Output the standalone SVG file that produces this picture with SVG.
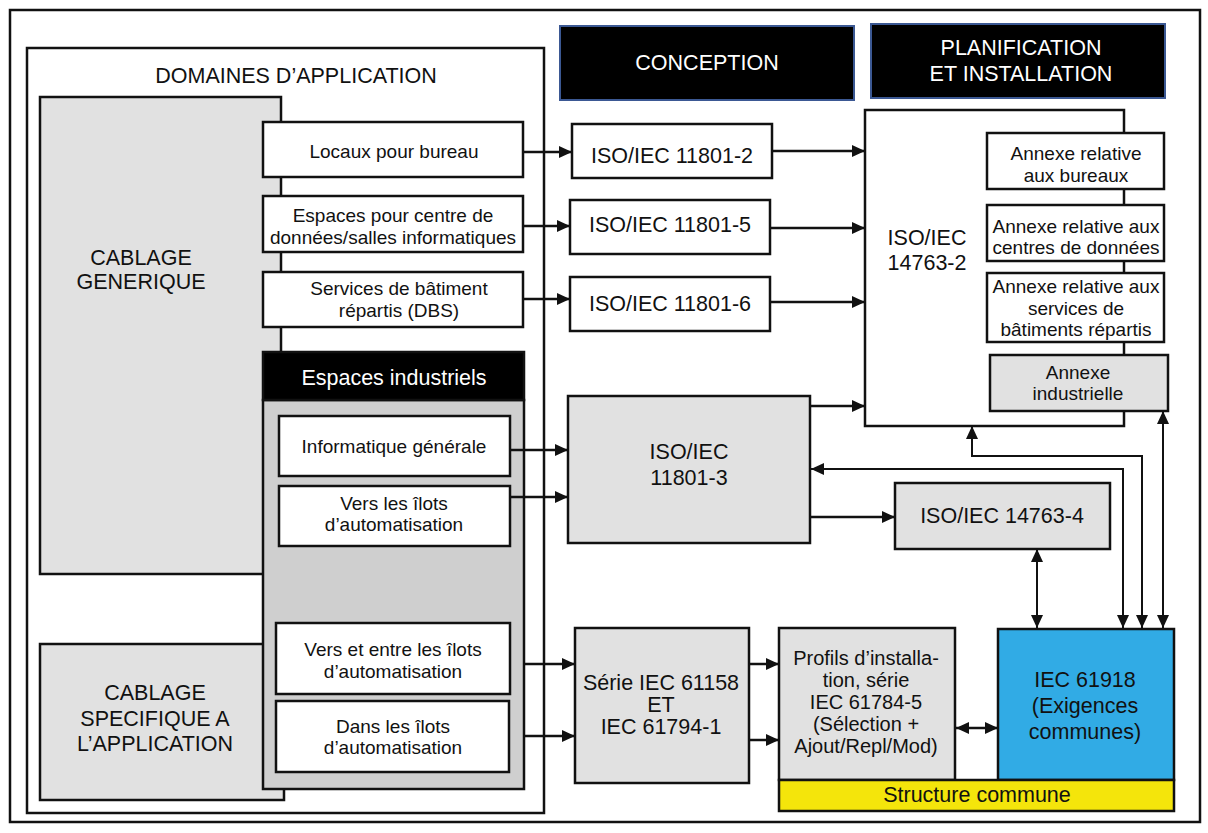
<svg xmlns="http://www.w3.org/2000/svg" width="1208" height="833" viewBox="0 0 1208 833">
<defs>
<style>
.b{stroke:#111;stroke-width:2.5}
.w{fill:#fff}
.g{fill:#e1e1e1}
.k{fill:#000;stroke:#3b5893;stroke-width:2}
.t{font-family:"Liberation Sans",Arial,sans-serif;fill:#111;text-anchor:middle;dominant-baseline:central}
.s{font-size:19px}
.l{font-size:21.5px}
.m{font-size:20px}
.wt{fill:#fff}
.c{fill:none;stroke:#111;stroke-width:2.5}
.c2{fill:none;stroke:#111;stroke-width:2}
</style>
<marker id="ah" viewBox="0 0 13 12" refX="13" refY="6" markerWidth="13" markerHeight="12" markerUnits="userSpaceOnUse" orient="auto-start-reverse"><path d="M0,0L13,6L0,12z" fill="#111"/></marker>
</defs>
<rect x="0" y="0" width="1208" height="833" fill="#fff"/>
<rect id="frame" x="10" y="10" width="1190" height="812" fill="none" class="b"/>

<g id="domaines">
<rect x="27" y="48" width="517" height="765" class="b w"/>
<text class="t l" x="296" y="76">DOMAINES D’APPLICATION</text>
</g>
<g id="cablage-generique">
<rect x="40" y="97" width="241" height="477" class="b g"/>
<text class="t l" x="141" y="258">CABLAGE</text>
<text class="t l" x="141" y="282">GENERIQUE</text>
</g>
<g id="cablage-specifique">
<rect x="40" y="644" width="244" height="156" class="b g"/>
<text class="t l" x="155" y="693">CABLAGE</text>
<text class="t l" x="155" y="719">SPECIFIQUE A</text>
<text class="t l" x="155" y="744">L’APPLICATION</text>
</g>
<g id="locaux">
<rect x="263" y="122" width="260" height="55" class="b w"/>
<text class="t s" x="394" y="151">Locaux pour bureau</text>
</g>
<g id="espaces-centre">
<rect x="263" y="196" width="260" height="56" class="b w"/>
<text class="t s" x="393" y="215">Espaces pour centre de</text>
<text class="t s" x="393" y="237">données/salles informatiques</text>
</g>
<g id="services-batiment">
<rect x="263" y="272" width="260" height="55" class="b w"/>
<text class="t s" x="399" y="288">Services de bâtiment</text>
<text class="t s" x="399" y="310">répartis (DBS)</text>
</g>
<g id="espaces-industriels">
<rect x="263" y="400" width="261" height="389" class="b" fill="#cfcfcf"/>
<rect x="263" y="352" width="261" height="48" class="b" fill="#000"/>
<text class="t l wt" x="394" y="378">Espaces industriels</text>
</g>
<g id="informatique-generale">
<rect x="279" y="416" width="231" height="60" class="b w"/>
<text class="t s" x="394" y="446">Informatique générale</text>
</g>
<g id="vers-ilots">
<rect x="279" y="486" width="231" height="60" class="b w"/>
<text class="t s" x="394" y="503">Vers les îlots</text>
<text class="t s" x="394" y="524">d’automatisation</text>
</g>
<g id="vers-entre-ilots">
<rect x="276" y="623" width="234" height="71" class="b w"/>
<text class="t s" x="393" y="649">Vers et entre les îlots</text>
<text class="t s" x="393" y="671">d’automatisation</text>
</g>
<g id="dans-ilots">
<rect x="276" y="701" width="233" height="71" class="b w"/>
<text class="t s" x="393" y="726">Dans les îlots</text>
<text class="t s" x="393" y="747">d’automatisation</text>
</g>

<g id="conception">
<rect x="560" y="26" width="294" height="74" class="k"/>
<text class="t l wt" x="707" y="63">CONCEPTION</text>
</g>
<g id="planification">
<rect x="871" y="24" width="294" height="74" class="k"/>
<text class="t l wt" x="1021" y="48">PLANIFICATION</text>
<text class="t l wt" x="1021" y="74">ET INSTALLATION</text>
</g>

<g id="iso-11801-2">
<rect x="572" y="124" width="200" height="54" class="b w"/>
<text class="t l" x="672" y="156">ISO/IEC 11801-2</text>
</g>
<g id="iso-11801-5">
<rect x="570" y="200" width="200" height="54" class="b w"/>
<text class="t l" x="670" y="225">ISO/IEC 11801-5</text>
</g>
<g id="iso-11801-6">
<rect x="570" y="277" width="200" height="54" class="b w"/>
<text class="t l" x="670" y="304">ISO/IEC 11801-6</text>
</g>
<g id="iso-11801-3">
<rect x="568" y="396" width="242" height="147" class="b g"/>
<text class="t l" x="689" y="452">ISO/IEC</text>
<text class="t l" x="689" y="478">11801-3</text>
</g>
<g id="iso-14763-4">
<rect x="895" y="483" width="215" height="66" class="b g"/>
<text class="t l" x="1002" y="516">ISO/IEC 14763-4</text>
</g>
<g id="iso-14763-2">
<rect x="865" y="110" width="259" height="316" class="b w"/>
<text class="t l" x="927" y="238">ISO/IEC</text>
<text class="t l" x="927" y="263">14763-2</text>
</g>
<g id="annexe-bureaux">
<rect x="987" y="133" width="177" height="56" class="b w"/>
<text class="t s" x="1076" y="153">Annexe relative</text>
<text class="t s" x="1076" y="175">aux bureaux</text>
</g>
<g id="annexe-centres">
<rect x="987" y="205" width="177" height="56" class="b w"/>
<text class="t s" x="1076" y="226">Annexe relative aux</text>
<text class="t s" x="1076" y="247">centres de données</text>
</g>
<g id="annexe-services">
<rect x="987" y="273" width="177" height="69" class="b w"/>
<text class="t s" x="1076" y="286">Annexe relative aux</text>
<text class="t s" x="1076" y="308">services de</text>
<text class="t s" x="1076" y="329">bâtiments répartis</text>
</g>
<g id="annexe-industrielle">
<rect x="990" y="355" width="178" height="56" class="b g"/>
<text class="t s" x="1078" y="372">Annexe</text>
<text class="t s" x="1078" y="393">industrielle</text>
</g>

<g id="serie-61158">
<rect x="575" y="628" width="174" height="155" class="b g"/>
<text class="t l" x="661" y="683">Série IEC 61158</text>
<text class="t l" x="661" y="705">ET</text>
<text class="t l" x="661" y="727">IEC 61794-1</text>
</g>
<g id="profils">
<rect x="779" y="628" width="176" height="152" class="b g"/>
<text class="t m" x="866" y="658">Profils d’installa-</text>
<text class="t m" x="866" y="680">tion, série</text>
<text class="t m" x="866" y="702">IEC 61784-5</text>
<text class="t m" x="866" y="724">(Sélection +</text>
<text class="t m" x="866" y="746">Ajout/Repl/Mod)</text>
</g>
<g id="iec-61918">
<rect x="998" y="629" width="176" height="151" class="b" fill="#31abe5"/>
<text class="t l" x="1085" y="680">IEC 61918</text>
<text class="t l" x="1085" y="706">(Exigences</text>
<text class="t l" x="1085" y="732">communes)</text>
</g>
<g id="structure-commune">
<rect x="779" y="780" width="395" height="31" class="b" fill="#f4e50b"/>
<text class="t l" x="977" y="795">Structure commune</text>
</g>

<g id="connectors">
<path class="c" d="M523,152H572" marker-end="url(#ah)"/>
<path class="c" d="M523,226H570" marker-end="url(#ah)"/>
<path class="c" d="M523,299H570" marker-end="url(#ah)"/>
<path class="c" d="M772,151H865" marker-end="url(#ah)"/>
<path class="c" d="M770,228H865" marker-end="url(#ah)"/>
<path class="c" d="M770,302H865" marker-end="url(#ah)"/>
<path class="c" d="M810,406H865" marker-end="url(#ah)"/>
<path class="c" d="M510,450H568" marker-end="url(#ah)"/>
<path class="c" d="M510,497H568" marker-end="url(#ah)"/>
<path class="c" d="M810,517H895" marker-end="url(#ah)"/>
<path class="c2" d="M1123,628V469H811" marker-start="url(#ah)" marker-end="url(#ah)"/>
<path class="c2" d="M972,426V456H1142V628" marker-start="url(#ah)" marker-end="url(#ah)"/>
<path class="c2" d="M1163,411V628" marker-start="url(#ah)" marker-end="url(#ah)"/>
<path class="c2" d="M1037,549V628" marker-start="url(#ah)" marker-end="url(#ah)"/>
<path class="c" d="M524,664H575" marker-end="url(#ah)"/>
<path class="c" d="M524,736H575" marker-end="url(#ah)"/>
<path class="c" d="M749,664H779" marker-end="url(#ah)"/>
<path class="c" d="M749,740H779" marker-end="url(#ah)"/>
<path class="c" d="M956,728H998" marker-start="url(#ah)" marker-end="url(#ah)"/>
</g>
</svg>
